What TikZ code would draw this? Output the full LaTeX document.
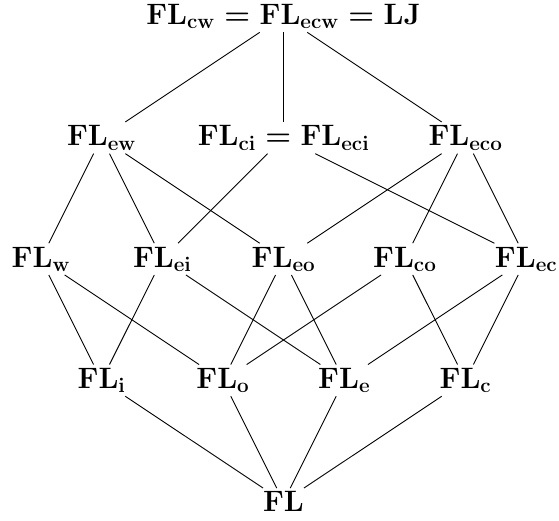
\RequirePackage{fix-cm}
\documentclass[tikz,border=0pt]{standalone}
\newcommand{\fl}[1]{\mathbf{FL}_{\mathbf{#1}}}
\begin{document}
\begin{tikzpicture}[x=1pt,y=-1pt,
  lat/.style={font=\fontsize{29.5}{35}\selectfont\boldmath},
  edge/.style={line width=0.9pt}]
\useasboundingbox (0,0) rectangle (559,521);
% row 1
\node[lat] (top) at (283.5,16.5) {$\fl{cw}=\fl{ecw}=\mathbf{LJ}$};
% row 2
\node[lat] (ew)  at (101.55,137.8) {$\fl{ew}$};
\node[lat] (ci)  at (283.5,137.8)  {$\fl{ci}=\fl{eci}$};
\node[lat] (eco) at (465.45,137.8) {$\fl{eco}$};
% row 3
\node[lat] (w)   at (40.9,259.1)  {$\fl{w}$};
\node[lat] (ei)  at (162.2,259.1) {$\fl{ei}$};
\node[lat] (eo)  at (283.5,259.1) {$\fl{eo}$};
\node[lat] (co)  at (404.8,259.1) {$\fl{co}$};
\node[lat] (ec)  at (526.1,259.1) {$\fl{ec}$};
% row 4
\node[lat] (i)   at (101.55,380.4) {$\fl{i}$};
\node[lat] (o)   at (222.85,380.4) {$\fl{o}$};
\node[lat] (e)   at (344.15,380.4) {$\fl{e}$};
\node[lat] (c)   at (465.45,380.4) {$\fl{c}$};
% row 5
\node[lat] (fl)  at (283.5,501.7) {$\mathbf{FL}$};
% edges
\draw[edge] (top) -- (ew);
\draw[edge] (top) -- (ci);
\draw[edge] (top) -- (eco);
\draw[edge] (ew) -- (w);
\draw[edge] (ew) -- (ei);
\draw[edge] (ew) -- (eo);
\draw[edge] (ci) -- (ei);
\draw[edge] (ci) -- (ec);
\draw[edge] (eco) -- (eo);
\draw[edge] (eco) -- (co);
\draw[edge] (eco) -- (ec);
\draw[edge] (w) -- (i);
\draw[edge] (w) -- (o);
\draw[edge] (ei) -- (i);
\draw[edge] (ei) -- (e);
\draw[edge] (eo) -- (o);
\draw[edge] (eo) -- (e);
\draw[edge] (co) -- (o);
\draw[edge] (co) -- (c);
\draw[edge] (ec) -- (e);
\draw[edge] (ec) -- (c);
\draw[edge] (i) -- (fl);
\draw[edge] (o) -- (fl);
\draw[edge] (e) -- (fl);
\draw[edge] (c) -- (fl);
\end{tikzpicture}
\end{document}
